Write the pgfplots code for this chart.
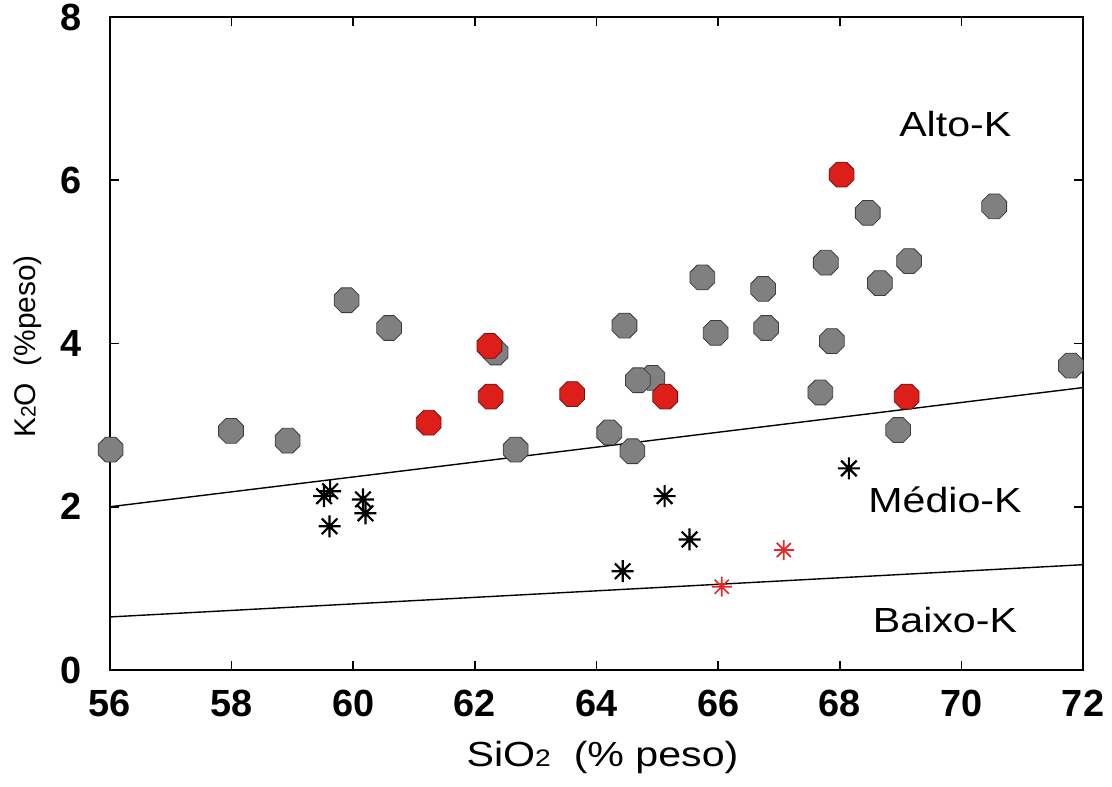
\documentclass[border=0pt]{standalone}
\usepackage{fontspec}
\setmainfont{Liberation Sans}
\usepackage{pgfplots}
\pgfplotsset{compat=1.18}
\definecolor{octgray}{RGB}{128,128,128}
\definecolor{octedge}{RGB}{60,60,60}
\definecolor{octred}{RGB}{222,30,24}
\definecolor{octrededge}{RGB}{110,20,20}
\definecolor{starred}{RGB}{232,40,40}
\pgfdeclareplotmark{oct}{%
  \pgfpathmoveto{\pgfqpointpolar{22.5}{\pgfplotmarksize}}%
  \pgfpathlineto{\pgfqpointpolar{67.5}{\pgfplotmarksize}}%
  \pgfpathlineto{\pgfqpointpolar{112.5}{\pgfplotmarksize}}%
  \pgfpathlineto{\pgfqpointpolar{157.5}{\pgfplotmarksize}}%
  \pgfpathlineto{\pgfqpointpolar{202.5}{\pgfplotmarksize}}%
  \pgfpathlineto{\pgfqpointpolar{247.5}{\pgfplotmarksize}}%
  \pgfpathlineto{\pgfqpointpolar{292.5}{\pgfplotmarksize}}%
  \pgfpathlineto{\pgfqpointpolar{337.5}{\pgfplotmarksize}}%
  \pgfpathclose
  \pgfusepathqfillstroke
}
\pgfdeclareplotmark{ast8}{%
  \pgfpathmoveto{\pgfqpoint{0pt}{\pgfplotmarksize}}%
  \pgfpathlineto{\pgfqpoint{0pt}{-\pgfplotmarksize}}%
  \pgfpathmoveto{\pgfqpoint{\pgfplotmarksize}{0pt}}%
  \pgfpathlineto{\pgfqpoint{-\pgfplotmarksize}{0pt}}%
  \pgfpathmoveto{\pgfqpoint{0.7071\pgfplotmarksize}{0.7071\pgfplotmarksize}}%
  \pgfpathlineto{\pgfqpoint{-0.7071\pgfplotmarksize}{-0.7071\pgfplotmarksize}}%
  \pgfpathmoveto{\pgfqpoint{-0.7071\pgfplotmarksize}{0.7071\pgfplotmarksize}}%
  \pgfpathlineto{\pgfqpoint{0.7071\pgfplotmarksize}{-0.7071\pgfplotmarksize}}%
  \pgfusepathqstroke
}
\begin{document}
\begin{tikzpicture}
\begin{axis}[
  scale only axis, width=973bp, height=653bp,
  xmin=56, xmax=72, ymin=0, ymax=8,
  xtick={56,58,...,72}, ytick={0,2,...,8},
  tick align=inside, major tick length=9bp,
  axis line style={line width=1.6bp},
  every tick/.style={line width=1.6bp, black},
  /pgf/number format/assume math mode=true,
  tick label style={font=\fontsize{38}{38}\selectfont\bfseries},
  xticklabel style={yshift=-17bp},
  yticklabel style={xshift=-25bp},
  xlabel={\scalebox{1.18}[1]{SiO{\fontsize{24}{24}\selectfont 2}\ \ (\% peso)}},
  xlabel style={font=\fontsize{35}{35}\selectfont, at={([xshift=6bp,yshift=-87bp]rel axis cs:0.5,0)}, anchor=center},
  ylabel={K{\fontsize{21}{21}\selectfont 2}O\ \ (\%peso)},
  ylabel style={font=\fontsize{30}{30}\selectfont, at={([xshift=-82bp,yshift=-3bp]rel axis cs:0,0.5)}, anchor=center},
  clip=false,
]
\coordinate (bl) at (rel axis cs:0,0);
\coordinate (tr) at (rel axis cs:1,1);
% boundary lines
\addplot[black, line width=1.4bp] coordinates {(56,2.0) (72,3.46)};
\addplot[black, line width=1.4bp] coordinates {(56,0.65) (72,1.29)};
% gray octagons
\addplot[only marks, mark=oct, mark size=13.4bp, mark options={fill=octgray, draw=octedge, line width=0.8bp}] coordinates {
(56.01,2.70) (57.99,2.93) (58.92,2.81) (59.89,4.53) (60.59,4.19)
(62.34,3.89) (62.67,2.70) (64.21,2.91) (64.46,4.22) (64.59,2.68)
(64.92,3.58) (64.68,3.55) (65.74,4.81) (65.96,4.13) (66.74,4.67)
(66.79,4.19) (67.68,3.40) (67.77,4.99) (67.87,4.03) (68.46,5.60)
(68.66,4.74) (68.96,2.94) (69.14,5.01) (70.54,5.68) (71.80,3.73)
};
% red octagons
\addplot[only marks, mark=oct, mark size=13.4bp, mark options={fill=octred, draw=octrededge, line width=0.8bp}] coordinates {
(61.24,3.03) (62.24,3.97) (62.26,3.35) (63.60,3.38) (65.13,3.35)
(68.03,6.07) (69.10,3.35)
};
% black asterisks
\addplot[only marks, mark=ast8, mark size=11bp, mark options={draw=black, line width=2.2bp}] coordinates {
(59.52,2.13) (59.62,2.19) (59.61,1.76) (60.16,2.09) (60.20,1.92)
(64.43,1.21) (65.12,2.13) (65.53,1.60) (68.15,2.47)
};
% red asterisks
\addplot[only marks, mark=ast8, mark size=10bp, mark options={draw=starred, line width=1.7bp}] coordinates {
(66.06,1.02) (67.08,1.47)
};
\node[font=\fontsize{35}{35}\selectfont] at (axis cs:69.9,6.69) {\scalebox{1.18}[1]{Alto-K}};
\node[font=\fontsize{35}{35}\selectfont] at (axis cs:69.73,2.09) {\scalebox{1.18}[1]{Médio-K}};
\node[font=\fontsize{35}{35}\selectfont] at (axis cs:69.73,0.61) {\scalebox{1.18}[1]{Baixo-K}};
\end{axis}
\pgfresetboundingbox
\path ([xshift=-110bp,yshift=-117bp]bl) rectangle ([xshift=29bp,yshift=17bp]tr);
\end{tikzpicture}
\end{document}
